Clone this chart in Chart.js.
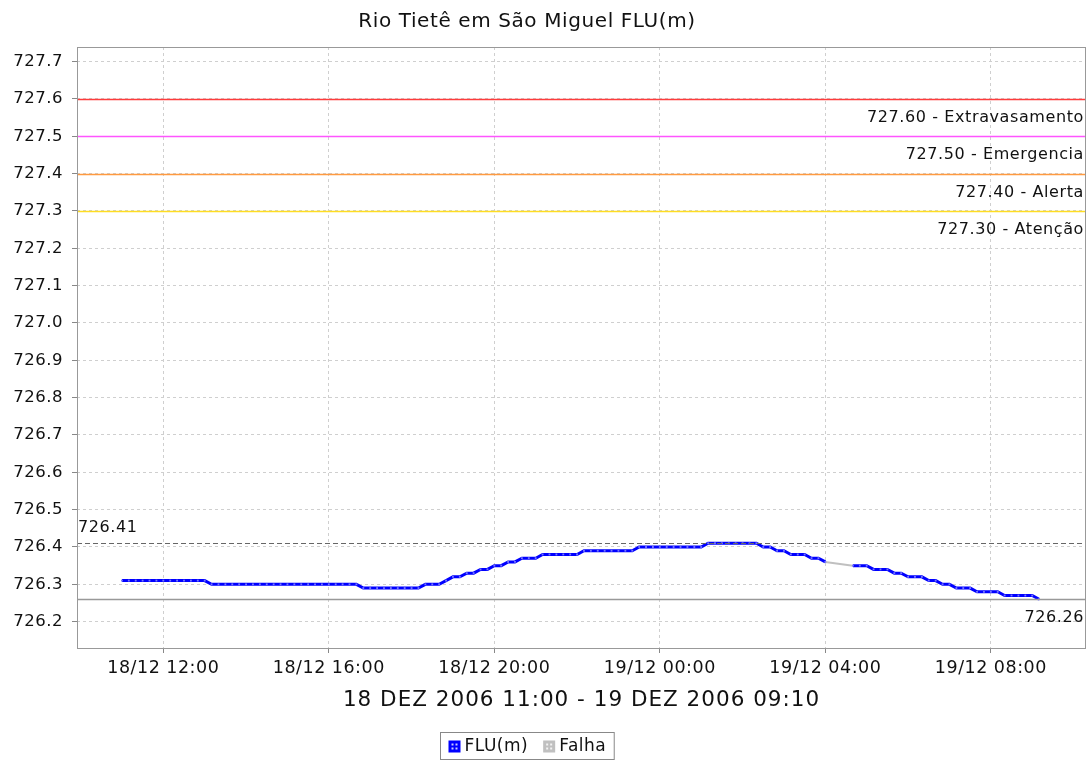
<!DOCTYPE html>
<html><head><meta charset="utf-8">
<script src="https://cdn.jsdelivr.net/npm/chart.js@4.4.0/dist/chart.umd.min.js"></script>
<style>html,body{margin:0;padding:0;background:#fff;overflow:hidden}canvas{display:block}</style>
</head><body><canvas id="c" width="1092" height="761"></canvas>
<script>
const chartTitle = "Rio Tietê em São Miguel FLU(m)";
const xAxisTitle = "18 DEZ 2006 11:00 - 19 DEZ 2006 09:10";
const seriesNames = ["FLU(m)", "Falha"];
// readings every 10 minutes, starting 18/12 11:00 (hours counted from 18/12 00:00)
const startHour = 11;
const stepMinutes = 10;
const fluValues = [
  726.31,726.31,726.31,726.31,726.31,726.31,726.31,726.31,726.31,726.31,726.31,726.31,726.31,
  726.30,726.30,726.30,726.30,726.30,726.30,726.30,726.30,726.30,726.30,726.30,726.30,726.30,726.30,726.30,726.30,726.30,726.30,726.30,726.30,726.30,726.30,
  726.29,726.29,726.29,726.29,726.29,726.29,726.29,726.29,726.29,
  726.30,726.30,726.30,
  726.31,
  726.32,726.32,
  726.33,726.33,
  726.34,726.34,
  726.35,726.35,
  726.36,726.36,
  726.37,726.37,726.37,
  726.38,726.38,726.38,726.38,726.38,726.38,
  726.39,726.39,726.39,726.39,726.39,726.39,726.39,726.39,
  726.40,726.40,726.40,726.40,726.40,726.40,726.40,726.40,726.40,726.40,
  726.41,726.41,726.41,726.41,726.41,726.41,726.41,726.41,
  726.40,726.40,
  726.39,726.39,
  726.38,726.38,726.38,
  726.37,726.37,
  726.36,
  null,null,null,
  726.35,726.35,726.35,
  726.34,726.34,726.34,
  726.33,726.33,
  726.32,726.32,726.32,
  726.31,726.31,
  726.30,726.30,
  726.29,726.29,726.29,
  726.28,726.28,726.28,726.28,
  726.27,726.27,726.27,726.27,726.27,
  726.26
];
const falhaHours = [28.0, 28.6667];
const falhaValues = [726.36, 726.35];
const xTickHours = [12, 16, 20, 24, 28, 32];
const xTickLabels = ["18/12 12:00","18/12 16:00","18/12 20:00","19/12 00:00","19/12 04:00","19/12 08:00"];
const yTickValues = [726.2,726.3,726.4,726.5,726.6,726.7,726.8,726.9,727.0,727.1,727.2,727.3,727.4,727.5,727.6,727.7];
const thresholdValues = [727.6, 727.5, 727.4, 727.3];
const thresholdLabels = ["727.60 - Extravasamento","727.50 - Emergencia","727.40 - Alerta","727.30 - Atenção"];
const thresholdColors = ["#ff3c3c","#ff55ff","#ff9a40","#ffdd22"];
const maxValue = 726.41, maxLabel = "726.41";
const minValue = 726.26, minLabel = "726.26";

const FONT = "'DejaVu Sans', sans-serif";
const HEADER_CX = 527;
const fluData = fluValues.map((v, i) => ({x: startHour + i * stepMinutes / 60, y: v}));
const falhaData = falhaHours.map((h, i) => ({x: h, y: falhaValues[i]}));

const spacing = {
  id: 'spacing',
  beforeLayout(chart) { chart.ctx.letterSpacing = '0.5px'; },
  beforeDraw(chart) { chart.ctx.letterSpacing = '0.5px'; }
};

const overlay = {
  id: 'overlay',
  beforeDatasetsDraw(chart) {
    const {ctx, chartArea: a, scales: {y}} = chart;
    ctx.save();
    thresholdValues.forEach((v, i) => {
      const py = Math.round(y.getPixelForValue(v)) + 0.5;
      ctx.strokeStyle = thresholdColors[i];
      ctx.lineWidth = 1.5;
      ctx.beginPath(); ctx.moveTo(a.left, py); ctx.lineTo(a.right, py); ctx.stroke();
      ctx.fillStyle = '#111';
      ctx.font = "16px " + FONT;
      ctx.textAlign = 'right'; ctx.textBaseline = 'middle';
      ctx.letterSpacing = '0.6px';
      ctx.fillText(thresholdLabels[i], a.right - 2, py + 18);
    });
    ctx.restore();
  },
  afterDatasetsDraw(chart) {
    const {ctx, chartArea: a, scales: {y}} = chart;
    ctx.save();
    let py = Math.round(y.getPixelForValue(maxValue)) + 0.5;
    ctx.strokeStyle = '#666'; ctx.lineWidth = 1; ctx.setLineDash([5, 3]);
    ctx.beginPath(); ctx.moveTo(a.left, py); ctx.lineTo(a.right, py); ctx.stroke();
    ctx.setLineDash([]);
    ctx.fillStyle = '#111'; ctx.font = "16px " + FONT; ctx.letterSpacing = '0.6px';
    ctx.textAlign = 'left'; ctx.textBaseline = 'middle';
    ctx.fillText(maxLabel, a.left + 1, py - 16);
    py = Math.round(y.getPixelForValue(minValue)) + 0.5;
    ctx.strokeStyle = '#999'; ctx.lineWidth = 1.5;
    ctx.beginPath(); ctx.moveTo(a.left, py); ctx.lineTo(a.right, py); ctx.stroke();
    ctx.textAlign = 'right';
    ctx.fillText(minLabel, a.right - 2, py + 18);
    ctx.strokeStyle = '#999'; ctx.lineWidth = 1;
    ctx.strokeRect(a.left + 0.5, a.top + 0.5, a.right - a.left - 1, a.bottom - a.top);
    ctx.restore();
  },
  afterDraw(chart) {
    const {ctx, chartArea: a} = chart;
    ctx.save();
    ctx.fillStyle = '#111';
    ctx.textAlign = 'center'; ctx.textBaseline = 'middle';
    ctx.font = "20px " + FONT; ctx.letterSpacing = '0.6px';
    ctx.fillText(chartTitle, HEADER_CX, 22);
    ctx.font = "21.5px " + FONT; ctx.letterSpacing = '1px';
    ctx.fillText(xAxisTitle, (a.left + a.right) / 2, 700);
    // legend
    ctx.letterSpacing = '0.5px';
    ctx.font = "17px " + FONT;
    const items = [{t: seriesNames[0], c: '#0000ff'}, {t: seriesNames[1], c: '#c0c0c0'}];
    const box = 12, gap = 4, sep = 15, pad = 8;
    const widths = items.map(it => ctx.measureText(it.t).width);
    const total = pad * 2 + items.reduce((s, it, i) => s + box + gap + widths[i], 0) + sep * (items.length - 1);
    let x = Math.round(HEADER_CX - total / 2) + 0.5;
    const top = 732.5, h = 27;
    ctx.strokeStyle = '#888'; ctx.lineWidth = 1;
    ctx.strokeRect(x, top, total, h);
    let cx = x + pad;
    items.forEach((it, i) => {
      ctx.fillStyle = it.c;
      ctx.fillRect(cx, top + 8, box, box);
      ctx.fillStyle = 'rgba(255,255,255,0.8)';
      [[3,3],[7,3],[3,7],[7,7]].forEach(([dx, dy]) => ctx.fillRect(cx + dx, top + 8 + dy, 2, 2));
      ctx.fillStyle = '#111'; ctx.textAlign = 'left';
      ctx.fillText(it.t, cx + box + gap, top + h / 2 + 1);
      cx += box + gap + widths[i] + sep;
    });
    ctx.restore();
  }
};

new Chart(document.getElementById('c'), {
  type: 'line',
  data: {
    datasets: [
      {label: seriesNames[0], data: fluData, borderColor: '#0000ff', backgroundColor: '#0000ff',
       borderWidth: 3, pointRadius: 1.3, pointStyle: 'rect', pointBackgroundColor: '#7777ff',
       pointBorderWidth: 0, spanGaps: false, tension: 0, order: 1},
      {label: seriesNames[1], data: falhaData, borderColor: '#c0c0c0', backgroundColor: '#c0c0c0',
       borderWidth: 2, pointRadius: 0, tension: 0, order: 2}
    ]
  },
  options: {
    responsive: false, animation: false, devicePixelRatio: 1,
    layout: {padding: {left: 0, right: 6, top: 47, bottom: 0}},
    plugins: {legend: {display: false}, title: {display: false}, tooltip: {enabled: false}},
    scales: {
      x: {
        type: 'linear', min: 9.914, max: 34.30,
        afterBuildTicks: s => { s.ticks = xTickHours.map(v => ({value: v})); },
        afterFit: s => { s.height = 761 - 648; },
        ticks: {callback: (v, i) => xTickLabels[i], font: {family: FONT, size: 17.5}, color: '#111',
                maxRotation: 0, autoSkip: false, padding: 5},
        grid: {color: '#cfcfcf', tickColor: '#888', tickLength: 5, drawTicks: true},
        border: {display: false, dash: [3, 3]}
      },
      y: {
        min: 726.1295, max: 727.739,
        afterBuildTicks: s => { s.ticks = yTickValues.map(v => ({value: v})); },
        afterFit: s => { s.width = 77; },
        ticks: {callback: v => v.toFixed(1), font: {family: FONT, size: 16.5}, color: '#111', padding: 9},
        grid: {color: '#cfcfcf', tickColor: '#888', tickLength: 5, drawTicks: true},
        border: {display: false, dash: [3, 3]}
      }
    }
  },
  plugins: [spacing, overlay]
});
</script>
</body></html>
